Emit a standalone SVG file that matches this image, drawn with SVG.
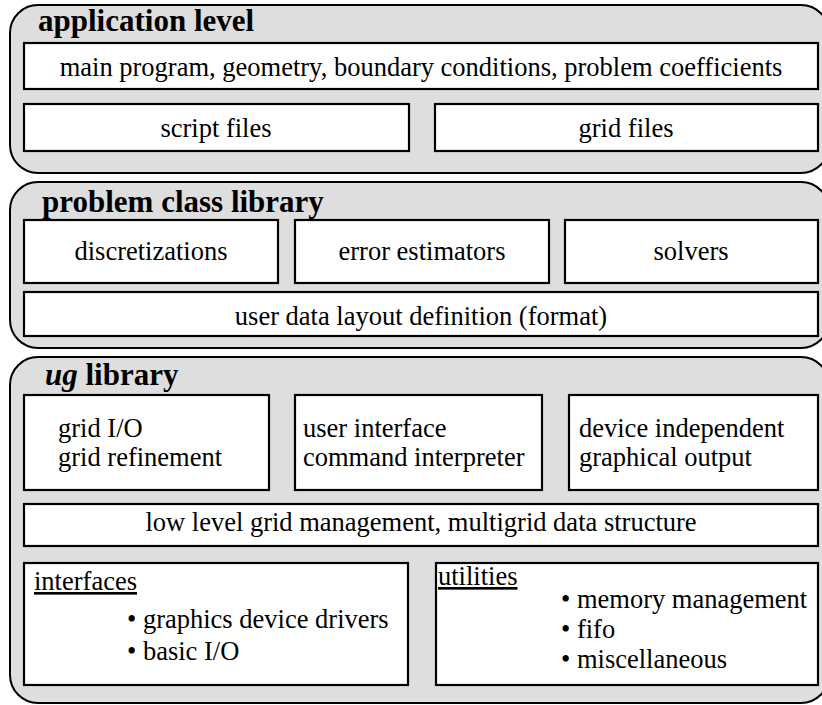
<svg xmlns="http://www.w3.org/2000/svg" width="822" height="705" viewBox="0 0 822 705">
<style>
.layer{fill:#dedede;stroke:#000;stroke-width:2}
.box{fill:#fff;stroke:#000;stroke-width:2.2}
text{font-family:"Liberation Serif","DejaVu Serif","Times New Roman",serif;font-size:26.5px}
.title{font-weight:bold;font-size:31px}
.c{text-anchor:middle}
</style>
<rect width="822" height="705" fill="#fff"/>
<g id="application-level">
<rect class="layer" x="10" y="5" width="819" height="168" rx="28" ry="28"/>
<text class="title" x="38" y="31">application level</text>
<g id="main-program"><rect class="box" x="24" y="43" width="794" height="46"/><text class="c" x="421" y="76">main program, geometry, boundary conditions, problem coefficients</text></g>
<g id="script-files"><rect class="box" x="24" y="104" width="385" height="47"/><text class="c" x="216" y="137">script files</text></g>
<g id="grid-files"><rect class="box" x="435" y="104" width="383" height="47"/><text class="c" x="626" y="137">grid files</text></g>
</g>
<g id="problem-class-library">
<rect class="layer" x="10" y="182" width="819" height="166" rx="28" ry="28"/>
<text class="title" x="42" y="212">problem class library</text>
<g id="discretizations"><rect class="box" x="24" y="220" width="254" height="63"/><text class="c" x="151" y="260">discretizations</text></g>
<g id="error-estimators"><rect class="box" x="295" y="220" width="254" height="63"/><text class="c" x="422" y="260">error estimators</text></g>
<g id="solvers"><rect class="box" x="565" y="220" width="253" height="63"/><text class="c" x="691" y="260">solvers</text></g>
<g id="user-data-layout"><rect class="box" x="24" y="292" width="794" height="44"/><text class="c" x="421" y="325">user data layout definition (format)</text></g>
</g>
<g id="ug-library">
<rect class="layer" x="10" y="357" width="819" height="346" rx="28" ry="28"/>
<text class="title" x="45" y="385"><tspan font-style="italic">ug</tspan> library</text>
<g id="grid-io"><rect class="box" x="24" y="395" width="245" height="95"/><text x="58" y="437">grid I/O</text><text x="58" y="466">grid refinement</text></g>
<g id="user-interface"><rect class="box" x="295" y="395" width="247" height="95"/><text x="303" y="437">user interface</text><text x="303" y="466">command interpreter</text></g>
<g id="graphical-output"><rect class="box" x="569" y="395" width="249" height="95"/><text x="579" y="437">device independent</text><text x="579" y="466">graphical output</text></g>
<g id="low-level"><rect class="box" x="24" y="504" width="794" height="42"/><text class="c" x="421" y="531">low level grid management, multigrid data structure</text></g>
<g id="interfaces"><rect class="box" x="24" y="563" width="384" height="122"/><text x="34" y="590" text-decoration="underline">interfaces</text><text x="127" y="628">• graphics device drivers</text><text x="127" y="660">• basic I/O</text></g>
<g id="utilities"><rect class="box" x="436" y="563" width="382" height="122"/><text x="438" y="585" text-decoration="underline">utilities</text><text x="561" y="608">• memory management</text><text x="561" y="638">• fifo</text><text x="561" y="668">• miscellaneous</text></g>
</g>
<g id="connectors"/>
</svg>
